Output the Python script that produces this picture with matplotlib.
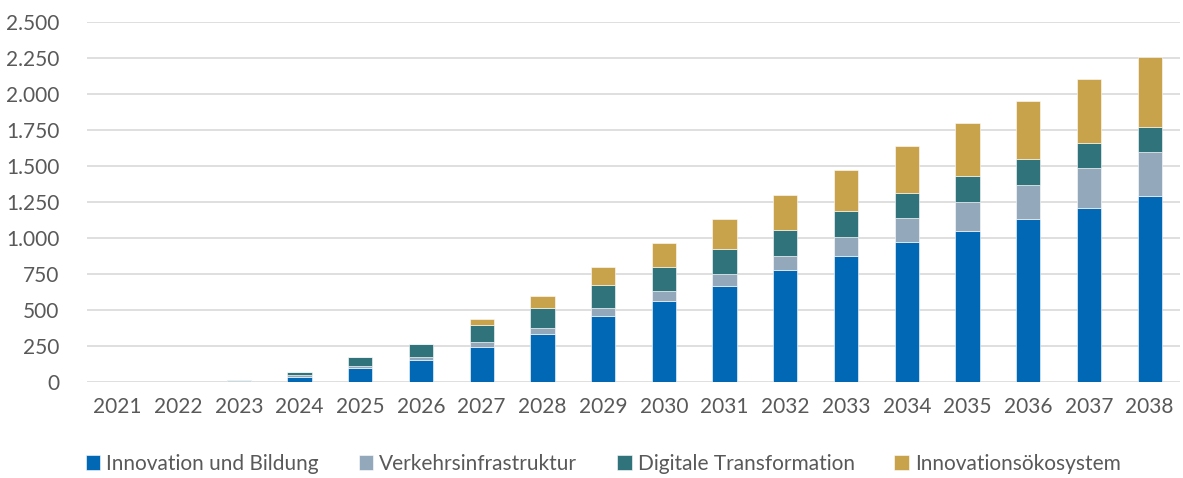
import numpy as np
import matplotlib
matplotlib.use("Agg")
import matplotlib.pyplot as plt
from matplotlib.ticker import FuncFormatter

years = [str(y) for y in range(2021, 2039)]
innovation = [0, 0, 2, 37, 99, 150, 245, 331, 460, 564, 668, 778, 879, 970, 1053, 1131, 1208, 1291]
verkehr = [0, 0, 5, 10, 14, 23, 30, 44, 54, 68, 84, 100, 132, 167, 201, 241, 277, 308]
digital = [0, 0, 8, 26, 61, 93, 118, 141, 161, 166, 173, 177, 180, 175, 180, 176, 174, 171]
oeko = [0, 0, 0, 0, 0, 0, 42, 81, 121, 165, 206, 245, 285, 326, 364, 407, 449, 490]

labels = ["Innovation und Bildung", "Verkehrsinfrastruktur",
          "Digitale Transformation", "Innovationsökosystem"]
colors = ["#0068b4", "#94a8bc", "#31737b", "#c9a34c"]

plt.rcParams['font.family'] = ['Lato', 'DejaVu Sans']
txt = "#595959"

fig = plt.figure(figsize=(11.83, 4.78), dpi=100)
ax = fig.add_axes([0.0735, 0.2008, 0.924, 0.7525])

x = np.arange(len(years))
bottom = np.zeros(len(years))
for vals, lab, col in zip([innovation, verkehr, digital, oeko], labels, colors):
    ax.bar(x, vals, 0.4, bottom=bottom, color=col, label=lab,
           edgecolor="white", linewidth=0.4, zorder=3)
    bottom += np.array(vals)

ax.set_ylim(0, 2500)
ax.set_xlim(-0.5, len(years) - 0.5)
ax.set_yticks(np.arange(0, 2501, 250))
ax.yaxis.set_major_formatter(FuncFormatter(lambda v, p: f"{int(v):,}".replace(",", ".")))
ax.set_xticks(x)
ax.set_xticklabels(years)
ax.grid(axis="y", color="#d9d9d9", linewidth=1.2, zorder=0)
for s in ax.spines.values():
    s.set_visible(False)
ax.tick_params(length=0, labelsize=15, colors=txt)
ax.tick_params(axis="y", pad=20)
ax.tick_params(axis="x", pad=11)

leg = fig.legend(loc="lower center", bbox_to_anchor=(0.51, -0.03), ncol=4,
                 frameon=False, fontsize=15, handlelength=0.7, handleheight=0.7,
                 handletextpad=0.3, columnspacing=1.9)
for t in leg.get_texts():
    t.set_color(txt)

fig.savefig("out.png", dpi=100)
